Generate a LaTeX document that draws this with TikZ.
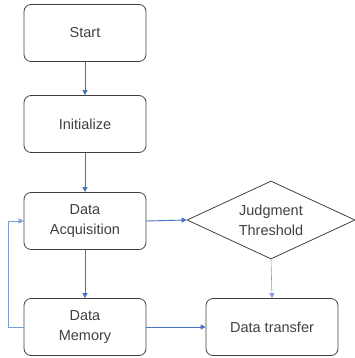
\documentclass[tikz,border=0pt]{standalone}
\usepackage{fontspec}
\setmainfont{Liberation Sans}
\usetikzlibrary{shapes.geometric,arrows.meta}
\definecolor{arrowblue}{HTML}{4472C4}
\definecolor{boxgray}{HTML}{404040}
\tikzset{
  txt/.style={align=center, font=\fontsize{14.5}{20}\selectfont, text=black!75},
  stepbox/.style={txt, draw=boxgray, line width=0.8pt, rounded corners=7pt, minimum width=122pt, minimum height=57pt},
  decbox/.style={draw=boxgray, line width=0.8pt, diamond, aspect=2.15, minimum width=168pt, minimum height=78pt, inner sep=0pt},
  flow/.style={draw=arrowblue, line width=0.9pt, -{Triangle[length=5pt,width=5pt]}},
  thinflow/.style={draw=arrowblue!70, line width=0.6pt, -{Triangle[length=5pt,width=5pt]}}
}
\begin{document}
\begin{tikzpicture}[x=1pt,y=-1pt]
\useasboundingbox (0,0) rectangle (355,358);
\node[stepbox] (start) at (85,33) {Start};
\node[stepbox] (init) at (85,124) {Initialize};
\node[stepbox] (acq) at (85,221) {Data\\Acquisition};
\node[stepbox] (mem) at (85,327) {Data\\Memory};
\node[decbox, label={[txt]center:{Judgment\\Threshold}}] (judge) at (271,220) {};
\node[stepbox, minimum width=132pt] (trans) at (272,327) {Data transfer};
\coordinate (lb) at (8,327);
\coordinate (lt) at (8,221);
\draw[flow] (start) -- (init);
\draw[flow] (init) -- (acq);
\draw[flow] (acq) -- (mem);
\draw[flow] (acq.east) -- (judge.west);
\draw[thinflow] (judge.south) -- (trans.north);
\draw[flow] (mem.east) -- (trans.west);
\draw[thinflow] (mem.west) -- (lb) -- (lt) -- (acq.west);
\end{tikzpicture}
\end{document}
